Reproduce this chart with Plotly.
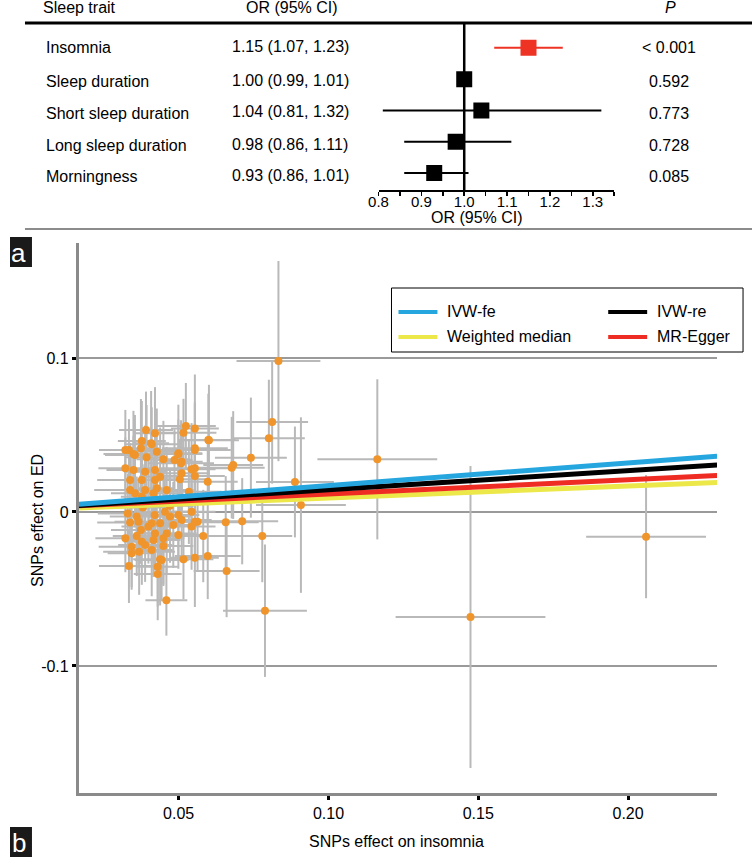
import plotly.graph_objects as go

W, H = 752, 857
FONT = "Liberation Sans, Arial, sans-serif"
FS = 16


def hx(x):
    # horizontal page position (in reference pixels) -> paper fraction
    return max(0.0, (x - 8) / 0.988) / W


def py(y):
    return 1 - y / H


# ---------------- Panel a: forest plot data ----------------
traits = ["Insomnia", "Sleep duration", "Short sleep duration", "Long sleep duration", "Morningness"]
or_est = [1.15, 1.00, 1.04, 0.98, 0.93]
or_lo = [1.07, 0.99, 0.81, 0.86, 0.86]
or_hi = [1.23, 1.01, 1.32, 1.11, 1.01]
or_text = ["1.15 (1.07, 1.23)", "1.00 (0.99, 1.01)", "1.04 (0.81, 1.32)",
           "0.98 (0.86, 1.11)", "0.93 (0.86, 1.01)"]
p_text = ["< 0.001", "0.592", "0.773", "0.728", "0.085"]
or_tickvals = [0.8, 0.85, 0.9, 0.95, 1.0, 1.05, 1.1, 1.15, 1.2, 1.25, 1.3, 1.35]
or_ticktext = ["0.8", "", "0.9", "", "1.0", "", "1.1", "", "1.2", "", "1.3", ""]

# ---------------- Panel b: SNP scatter data ----------------
snp_x = [0.0391, 0.0421, 0.0524, 0.0554, 0.0516, 0.0599, 0.0377, 0.0334, 0.0374, 0.0410,
         0.0427, 0.0554, 0.0499, 0.0354, 0.0393, 0.0449, 0.0486, 0.0508, 0.0543, 0.0554,
         0.0349, 0.0388, 0.0421, 0.0338, 0.0377, 0.0421, 0.0438, 0.0504, 0.0338, 0.0388,
         0.0427, 0.0460, 0.0534, 0.0597, 0.0354, 0.0377, 0.0416, 0.0510, 0.0554, 0.0499,
         0.0510, 0.0322, 0.0322, 0.0349, 0.0408, 0.0554, 0.0601, 0.0543, 0.0554, 0.0499,
         0.0454, 0.0338, 0.0366, 0.0410, 0.0471, 0.0510, 0.0543, 0.0563, 0.0582, 0.0322,
         0.0360, 0.0377, 0.0416, 0.0449, 0.0460, 0.0499, 0.0343, 0.0388, 0.0410, 0.0449,
         0.0343, 0.0368, 0.0438, 0.0516, 0.0554, 0.0597, 0.0334, 0.0430, 0.0430, 0.0399,
         0.0438, 0.0482, 0.0374, 0.0421, 0.0443, 0.0340, 0.0380, 0.0420, 0.0360, 0.0400,
         0.0470, 0.0330, 0.0459,
         0.0833, 0.0812, 0.0801, 0.0741, 0.0682, 0.0677, 0.1163, 0.0888, 0.0908, 0.0657,
         0.0712, 0.0779, 0.0660, 0.0788, 0.1474, 0.2060]
snp_y = [0.0532, 0.0511, 0.0558, 0.0543, 0.0515, 0.0468, 0.0461, 0.0403, 0.0414, 0.0440,
         0.0392, 0.0403, 0.0381, 0.0370, 0.0355, 0.0342, 0.0338, 0.0316, 0.0277, 0.0234,
         0.0273, 0.0262, 0.0273, 0.0208, 0.0208, 0.0208, 0.0229, 0.0212, 0.0143, 0.0143,
         0.0154, 0.0143, 0.0132, 0.0197, 0.0121, 0.0099, 0.0121, 0.0251, 0.0284, 0.0377,
         0.0327, 0.0284, 0.0403, 0.0377, 0.0446, 0.0414, 0.0466, 0.0002, -0.0063, -0.0020,
         0.0002, -0.0069, -0.0063, -0.0073, -0.0030, -0.0052, -0.0095, -0.0063, -0.0156, -0.0171,
         -0.0156, -0.0193, -0.0182, -0.0171, -0.0139, -0.0149, -0.0225, -0.0214, -0.0247, -0.0221,
         -0.0268, -0.0258, -0.0307, -0.0307, -0.0297, -0.0286, -0.0351, -0.0355, -0.0403, -0.0095,
         -0.0073, -0.0084, -0.0117, -0.0139, -0.0312, 0.0050, 0.0030, -0.0020, -0.0030, 0.0070,
         0.0040, -0.0010, -0.0573,
         0.0980, 0.0584, 0.0479, 0.0353, 0.0305, 0.0288, 0.0342, 0.0195, 0.0045, -0.0067,
         -0.0060, -0.0156, -0.0383, -0.0641, -0.0682, -0.0160]
se_x = [0.009, 0.007, 0.010, 0.008, 0.011, 0.009, 0.008, 0.010, 0.006, 0.009,
        0.007, 0.012, 0.008, 0.010, 0.007, 0.009, 0.006, 0.011, 0.008, 0.010,
        0.009, 0.007, 0.008, 0.011, 0.006, 0.009, 0.007, 0.010, 0.012, 0.008,
        0.006, 0.009, 0.011, 0.010, 0.008, 0.007, 0.010, 0.009, 0.012, 0.008,
        0.007, 0.009, 0.008, 0.010, 0.006, 0.011, 0.010, 0.008, 0.009, 0.007,
        0.010, 0.011, 0.008, 0.009, 0.007, 0.010, 0.008, 0.009, 0.011, 0.010,
        0.008, 0.006, 0.009, 0.007, 0.010, 0.008, 0.011, 0.009, 0.007, 0.010,
        0.008, 0.012, 0.009, 0.010, 0.008, 0.011, 0.010, 0.007, 0.008, 0.009,
        0.006, 0.008, 0.010, 0.007, 0.009, 0.011, 0.008, 0.010, 0.009, 0.007,
        0.008, 0.010, 0.007,
        0.014, 0.012, 0.012, 0.012, 0.010, 0.011, 0.020, 0.013, 0.015, 0.011,
        0.012, 0.010, 0.011, 0.014, 0.025, 0.020]
se_y = [0.025, 0.030, 0.028, 0.035, 0.022, 0.030, 0.026, 0.020, 0.032, 0.024,
        0.028, 0.030, 0.022, 0.026, 0.034, 0.025, 0.020, 0.028, 0.030, 0.024,
        0.022, 0.030, 0.026, 0.024, 0.028, 0.020, 0.032, 0.026, 0.022, 0.030,
        0.024, 0.028, 0.034, 0.026, 0.022, 0.028, 0.024, 0.030, 0.026, 0.032,
        0.024, 0.020, 0.026, 0.028, 0.034, 0.030, 0.036, 0.028, 0.026, 0.030,
        0.024, 0.022, 0.028, 0.026, 0.030, 0.024, 0.028, 0.032, 0.030, 0.022,
        0.026, 0.028, 0.024, 0.030, 0.026, 0.022, 0.028, 0.024, 0.030, 0.026,
        0.022, 0.028, 0.030, 0.026, 0.032, 0.028, 0.024, 0.026, 0.030, 0.024,
        0.026, 0.028, 0.022, 0.024, 0.026, 0.030, 0.028, 0.024, 0.026, 0.030,
        0.022, 0.026, 0.023,
        0.065, 0.040, 0.038, 0.039, 0.035, 0.033, 0.052, 0.036, 0.057, 0.030,
        0.028, 0.030, 0.030, 0.043, 0.098, 0.040]

methods = ["Weighted median", "MR-Egger", "IVW-re", "IVW-fe"]
slopes = [0.078, 0.092, 0.123, 0.147]
intercepts = [0.0013, 0.0025, 0.0022, 0.0025]
method_colors = ["#ece84a", "#ee2c24", "#000000", "#25a6df"]

x_range = [0.0167, 0.2297]
y_range = [-0.1825, 0.1747]
x_ticks = [0.05, 0.10, 0.15, 0.20]
x_ticktext = ["0.05", "0.10", "0.15", "0.20"]
y_ticks = [-0.1, 0, 0.1]
y_ticktext = ["-0.1", "0", "0.1"]

fig = go.Figure()

# ---- forest plot traces ----
rows = list(range(len(traits)))
red_idx = [0]
blk_idx = [1, 2, 3, 4]
for idx, col in [(red_idx, "#ee3224"), (blk_idx, "#000000")]:
    fig.add_trace(go.Scatter(
        x=[or_est[i] for i in idx], y=[rows[i] for i in idx],
        mode="markers", xaxis="x2", yaxis="y2", showlegend=False, hoverinfo="skip",
        marker=dict(symbol="square", size=16, color=col),
        error_x=dict(type="data", symmetric=False,
                     array=[or_hi[i] - or_est[i] for i in idx],
                     arrayminus=[or_est[i] - or_lo[i] for i in idx],
                     color=col, thickness=2, width=0),
    ))

# ---- scatter with error bars ----
fig.add_trace(go.Scatter(
    x=snp_x, y=snp_y, mode="markers", showlegend=False, hoverinfo="skip",
    marker=dict(size=8, color="#f0952c"),
    error_x=dict(type="data", array=se_x, color="#b9b9b9", thickness=2, width=0),
    error_y=dict(type="data", array=se_y, color="#b9b9b9", thickness=2, width=0),
))

# ---- MR lines ----
for name, b, a, c in zip(methods, slopes, intercepts, method_colors):
    fig.add_trace(go.Scatter(
        x=x_range, y=[a + b * x_range[0], a + b * x_range[1]],
        mode="lines", name=name, showlegend=False, hoverinfo="skip",
        line=dict(color=c, width=5),
    ))

shapes = []
annotations = []

# header rule and bottom rule for panel a
shapes.append(dict(type="line", xref="paper", yref="paper", x0=hx(23), x1=1.0,
                   y0=py(23), y1=py(23), line=dict(color="black", width=3)))
shapes.append(dict(type="line", xref="paper", yref="paper", x0=hx(23), x1=1.0,
                   y0=py(229), y1=py(229), line=dict(color="#8c8c8c", width=2)))
# reference line at OR = 1
shapes.append(dict(type="line", xref="x2", yref="paper", x0=1.0, x1=1.0,
                   y0=py(190), y1=py(24), line=dict(color="black", width=2.5), layer="below"))

# header texts
annotations.append(dict(text="Sleep trait", x=hx(39), y=py(8), xanchor="left", yanchor="middle"))
annotations.append(dict(text="OR (95% CI)", x=hx(290), y=py(8), xanchor="center", yanchor="middle"))
annotations.append(dict(text="<i>P</i>", x=hx(669), y=py(8), xanchor="center", yanchor="middle"))

row_px = [48, 82, 113, 145, 176]
for i in rows:
    annotations.append(dict(text=traits[i], x=hx(42), y=py(row_px[i]), xanchor="left", yanchor="middle"))
    annotations.append(dict(text=or_text[i], x=hx(228), y=py(row_px[i] - 1), xanchor="left", yanchor="middle"))
    annotations.append(dict(text=p_text[i], x=hx(668), y=py(row_px[i]), xanchor="center", yanchor="middle"))

annotations.append(dict(text="OR (95% CI)", x=hx(476), y=py(217), xanchor="center", yanchor="middle"))

# panel labels
for lab, y0, y1 in [("a", 237, 267), ("b", 827, 857)]:
    shapes.append(dict(type="rect", xref="paper", yref="paper", x0=0, x1=hx(30),
                       y0=py(y1), y1=py(y0), fillcolor="#1a1a1a", line=dict(width=0)))
    annotations.append(dict(text=lab, x=hx(17), y=py((y0 + y1) / 2 + 1), xanchor="center",
                            yanchor="middle", font=dict(color="white", size=26, family=FONT)))

# axis titles for panel b
annotations.append(dict(text="SNPs effect on ED", x=hx(35), y=py(520), textangle=-90,
                        xanchor="center", yanchor="middle"))
annotations.append(dict(text="SNPs effect on insomnia", x=hx(395), y=py(841),
                        xanchor="center", yanchor="middle"))

# manual legend
shapes.append(dict(type="rect", xref="paper", yref="paper", x0=hx(390), x1=hx(742),
                   y0=py(352), y1=py(288), fillcolor="white", line=dict(color="black", width=1)))
leg_items = [("IVW-fe", "#25a6df", 397, 312), ("IVW-re", "#000000", 607, 312),
             ("Weighted median", "#ece84a", 397, 337), ("MR-Egger", "#ee2c24", 607, 337)]
for name, c, lx, ly in leg_items:
    shapes.append(dict(type="line", xref="paper", yref="paper", x0=hx(lx), x1=hx(lx + 39),
                       y0=py(ly), y1=py(ly), line=dict(color=c, width=4)))
    annotations.append(dict(text=name, x=hx(lx + 47), y=py(ly), xanchor="left", yanchor="middle"))

for a in annotations:
    a.setdefault("xref", "paper")
    a.setdefault("yref", "paper")
    a.setdefault("showarrow", False)
    a.setdefault("font", dict(size=FS, color="black", family=FONT))

fig.update_layout(
    width=W, height=H,
    margin=dict(l=0, r=0, t=0, b=0),
    paper_bgcolor="white", plot_bgcolor="white",
    font=dict(family=FONT, size=FS, color="black"),
    showlegend=False,
    hovermode=False,
    xaxis=dict(domain=[hx(77), hx(716)], range=x_range, anchor="y",
               showgrid=False, zeroline=False,
               showline=True, linecolor="#8a8a8a", linewidth=3,
               ticks="outside", ticklen=4, tickwidth=3, tickcolor="black",
               tickvals=x_ticks, ticktext=x_ticktext,
               tickfont=dict(size=FS, family=FONT)),
    yaxis=dict(domain=[py(793), py(243)], range=y_range, anchor="x",
               showgrid=True, gridcolor="#9a9a9a", gridwidth=1.5, zeroline=False,
               showline=True, linecolor="#8a8a8a", linewidth=3,
               ticks="outside", ticklen=4, tickwidth=3, tickcolor="black",
               tickvals=y_ticks, ticktext=y_ticktext,
               tickfont=dict(size=FS, family=FONT)),
    xaxis2=dict(domain=[hx(377), hx(613)], range=[0.8, 1.35], anchor="y2",
                showgrid=False, zeroline=False,
                showline=True, linecolor="black", linewidth=1.5,
                ticks="outside", ticklen=4, tickwidth=1.5, tickcolor="black",
                tickvals=or_tickvals, ticktext=or_ticktext,
                ticklabelstandoff=-7,
                tickfont=dict(size=15, family=FONT)),
    yaxis2=dict(domain=[py(190), py(23)], range=[4.54, -0.794], anchor="x2",
                visible=False, showgrid=False, zeroline=False),
    shapes=shapes,
    annotations=annotations,
)

fig.write_html(
    "out.html",
    config={"displayModeBar": False, "staticPlot": True},
    post_script=(
        "document.documentElement.style.margin='0px';"
        "document.documentElement.style.padding='0px';"
        "document.documentElement.style.overflow='hidden';"
        "document.body.style.margin='0px';"
        "document.body.style.padding='0px';"
        "document.body.style.overflow='hidden';"
        "var d=document.getElementById('{plot_id}');"
        "d.style.position='absolute';d.style.left='0px';d.style.top='0px';"
    ),
)
